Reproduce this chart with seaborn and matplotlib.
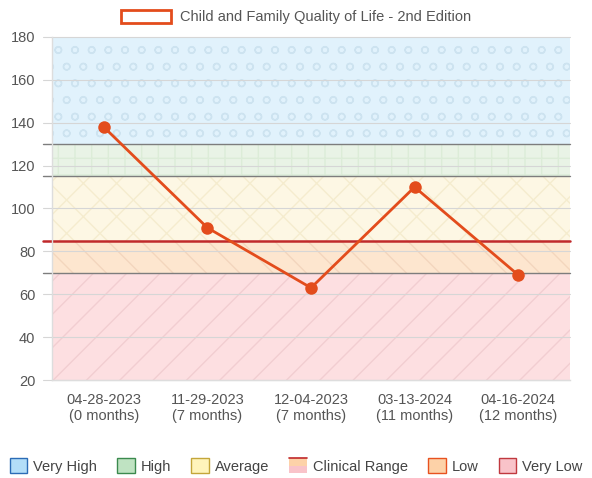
import numpy as np
import pandas as pd
import matplotlib
matplotlib.use("Agg")
import matplotlib.pyplot as plt
import seaborn as sns
from matplotlib.patches import Patch, Rectangle
from matplotlib.lines import Line2D

# data
dates = ["04-28-2023", "11-29-2023", "12-04-2023", "03-13-2024", "04-16-2024"]
months = ["(0 months)", "(7 months)", "(7 months)", "(11 months)", "(12 months)"]
scores = [138, 91, 63, 110, 69]
series_name = "Child and Family Quality of Life - 2nd Edition"

band_names = ["Very High", "High", "Average", "Low", "Very Low"]
band_lo = [130, 115, 85, 70, 20]
band_hi = [180, 130, 115, 85, 70]
clinical_cut = 85

band_fill = ["#e1f2fc", "#e9f3e6", "#fdf7e4", "#fde6cf", "#fddfe1"]
band_hatch_col = ["#cde3f0", "#dcecd8", "#f5ecce", "#f3d6bd", "#f2cdd1"]
band_hatch = ["o", "+", "x", "\\", "/"]
leg_face = ["#b3def8", "#bfe3c2", "#fff4bb", None, "#fdd2a8", "#f9c3c9"]
leg_edge = ["#2b6cb6", "#3b8a4e", "#c4a63a", None, "#e8521f", "#c0393f"]

line_col = "#e34c1c"

sns.set_theme(style="white")
plt.rcParams["font.family"] = ["Liberation Sans", "DejaVu Sans"]
plt.rcParams["hatch.linewidth"] = 1.0

fig = plt.figure(figsize=(5.92, 4.78), dpi=100)
ax = fig.add_axes([52 / 592, 1 - 380 / 478, 518 / 592, 343 / 478])

for lo, hi, fc, hc, h in zip(band_lo, band_hi, band_fill, band_hatch_col, band_hatch):
    ax.axhspan(lo, hi, facecolor=fc, edgecolor=hc, hatch=h, lw=0, zorder=0)

for yv in range(20, 181, 20):
    ax.axhline(yv, xmin=-0.018, xmax=1, color="#d6d6d6", lw=0.8, zorder=1, clip_on=False)

for yv in [130, 115, 70]:
    ax.axhline(yv, xmin=-0.018, xmax=1, color="#7d7d7d", lw=1.0, zorder=2, clip_on=False)
ax.axhline(clinical_cut, xmin=-0.018, xmax=1, color="#c0282a", lw=1.8, zorder=2, clip_on=False)

df = pd.DataFrame({"pos": np.arange(len(dates)), "score": scores})
sns.lineplot(data=df, x="pos", y="score", color=line_col, lw=2, marker="o",
             markersize=9, markeredgewidth=0, ax=ax, zorder=5)

ax.set_xlim(-0.5, len(dates) - 0.5)
ax.set_ylim(20, 180)
ax.set_yticks(range(20, 181, 20))
ax.set_xticks(range(len(dates)))
ax.set_xticklabels([f"{d}\n{m}" for d, m in zip(dates, months)])
ax.tick_params(axis="y", length=0, pad=12, labelsize=10.5, labelcolor="#555555")
ax.tick_params(axis="x", length=0, pad=9, labelsize=10.5, labelcolor="#555555")
ax.set_xlabel("")
ax.set_ylabel("")
for s in ["top", "right"]:
    ax.spines[s].set_visible(False)
for s in ["left", "bottom"]:
    ax.spines[s].set_color("#dddddd")
    ax.spines[s].set_linewidth(1)

# top legend
top_handle = Patch(facecolor="white", edgecolor=line_col, lw=2)
fig.legend([top_handle], [series_name], loc="center", bbox_to_anchor=(296 / 592, 1 - 17 / 478),
           frameon=False, fontsize=10.5, handlelength=3.4, handleheight=1.0,
           handletextpad=0.6, labelcolor="#555555")


class ClinicalHandler:
    def legend_artist(self, legend, orig_handle, fontsize, handlebox):
        x0, y0 = -handlebox.xdescent, -handlebox.ydescent
        w, h = handlebox.width, handlebox.height
        tr = handlebox.get_transform()
        bottom = Rectangle((x0, y0), w, h / 2, facecolor="#f9c3c9", lw=0, transform=tr)
        top = Rectangle((x0, y0 + h / 2), w, h / 2, facecolor="#fdd2a8", lw=0, transform=tr)
        edge = Line2D([x0, x0 + w], [y0 + h, y0 + h], color="#c0282a", lw=1.2, transform=tr)
        for a in (bottom, top, edge):
            handlebox.add_artist(a)
        return top


labels = ["Very High", "High", "Average", "Clinical Range", "Low", "Very Low"]
handles = []
for fc, ec in zip(leg_face, leg_edge):
    if fc is None:
        handles.append(Patch(label="clinical"))
    else:
        handles.append(Patch(facecolor=fc, edgecolor=ec, lw=1))
hmap = {handles[3]: ClinicalHandler()}
fig.legend(handles, labels, handler_map=hmap, loc="center", ncol=6,
           bbox_to_anchor=(296 / 592, 1 - 466 / 478), frameon=False, fontsize=10.5,
           handlelength=1.2, handleheight=1.2, handletextpad=0.4, columnspacing=1.4,
           labelcolor="#444444", borderpad=0, borderaxespad=0)

fig.savefig("out.png", dpi=100)
